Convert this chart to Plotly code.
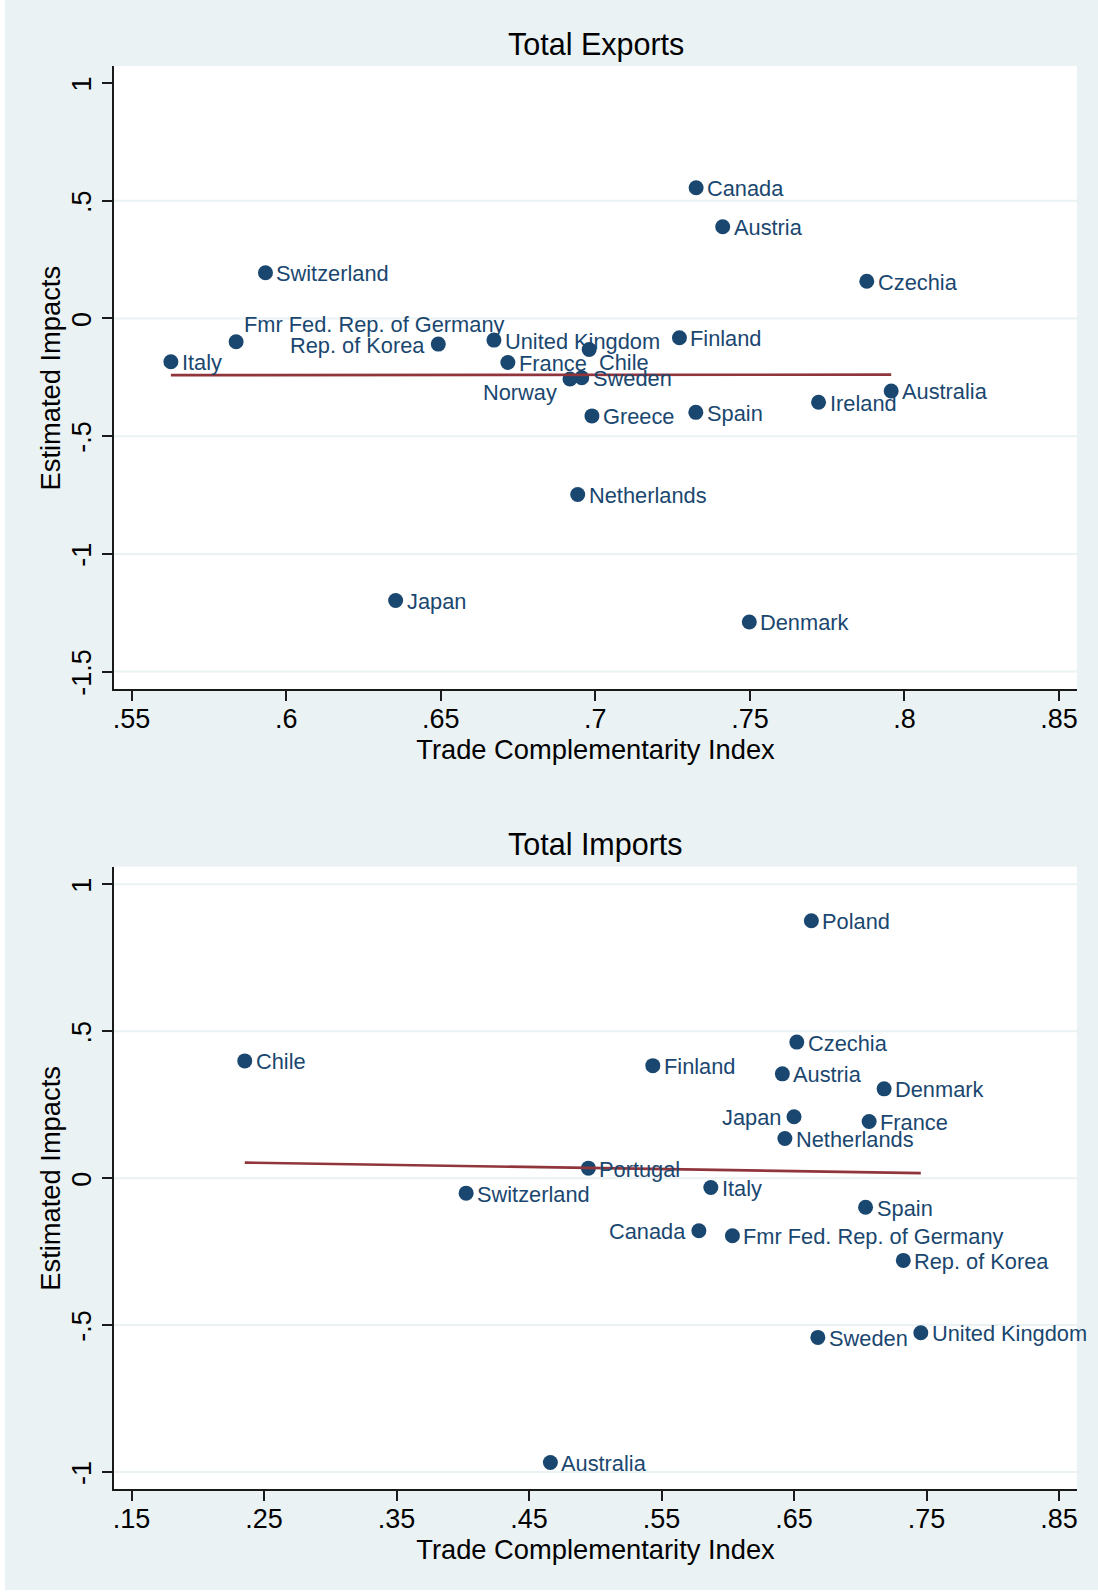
import plotly.graph_objects as go

BG = "#EAF2F3"
NAVY = "#1A476F"
MAROON = "#90353B"
FONT = "Liberation Sans, Arial, Helvetica, sans-serif"

# ---------------- Total Exports ----------------
exp_countries = ["Canada", "Austria", "Czechia", "Switzerland", "Fmr Fed. Rep. of Germany",
                 "Rep. of Korea", "United Kingdom", "Chile", "Italy", "France", "Norway",
                 "Sweden", "Greece", "Spain", "Finland", "Ireland", "Australia",
                 "Netherlands", "Japan", "Denmark"]
exp_tci = [0.7326, 0.7412, 0.7878, 0.5933, 0.5838,
           0.6492, 0.6672, 0.6980, 0.5627, 0.6717, 0.6918,
           0.6956, 0.6989, 0.7325, 0.7272, 0.7722, 0.7957,
           0.6943, 0.6354, 0.7498]
exp_impact = [0.555, 0.389, 0.158, 0.194, -0.099,
              -0.109, -0.092, -0.132, -0.184, -0.187, -0.257,
              -0.252, -0.414, -0.399, -0.082, -0.356, -0.308,
              -0.748, -1.198, -1.289]
exp_fit_x = [0.5627, 0.7957]
exp_fit_y = [-0.241, -0.239]
exp_xticks = [0.55, 0.60, 0.65, 0.70, 0.75, 0.80, 0.85]
exp_xticktext = [".55", ".6", ".65", ".7", ".75", ".8", ".85"]
exp_yticks = [-1.5, -1.0, -0.5, 0.0, 0.5, 1.0]
exp_yticktext = ["-1.5", "-1", "-.5", "0", ".5", "1"]
exp_grid = [-1.5, -1.0, -0.5, 0.0, 0.5]

# ---------------- Total Imports ----------------
imp_countries = ["Poland", "Czechia", "Chile", "Finland", "Austria", "Denmark", "Japan",
                 "France", "Netherlands", "Portugal", "Italy", "Switzerland", "Spain",
                 "Canada", "Fmr Fed. Rep. of Germany", "Rep. of Korea", "Sweden",
                 "United Kingdom", "Australia"]
imp_tci = [0.6631, 0.6521, 0.2354, 0.5434, 0.6412, 0.7180, 0.6500,
           0.7067, 0.6431, 0.4948, 0.5872, 0.4025, 0.7040,
           0.5782, 0.6035, 0.7325, 0.6680,
           0.7457, 0.4661]
imp_impact = [0.876, 0.463, 0.399, 0.383, 0.355, 0.304, 0.209,
              0.193, 0.135, 0.034, -0.032, -0.051, -0.099,
              -0.179, -0.196, -0.280, -0.542,
              -0.526, -0.968]
imp_fit_x = [0.2354, 0.7457]
imp_fit_y = [0.053, 0.017]
imp_xticks = [0.15, 0.25, 0.35, 0.45, 0.55, 0.65, 0.75, 0.85]
imp_xticktext = [".15", ".25", ".35", ".45", ".55", ".65", ".75", ".85"]
imp_yticks = [-1.0, -0.5, 0.0, 0.5, 1.0]
imp_yticktext = ["-1", "-.5", "0", ".5", "1"]
imp_grid = [-1.0, -0.5, 0.0, 0.5, 1.0]

# label placement (like Stata's mlabvposition); default is to the right (3 o'clock)
exp_label_pos = {"Fmr Fed. Rep. of Germany": "tr", "Rep. of Korea": "l",
                 "Chile": "br", "Norway": "bl"}
imp_label_pos = {"Japan": "l", "Canada": "l"}
POS_STYLE = {  # xanchor, xshift, yshift
    "r": ("left", 9, -1),
    "l": ("right", -11, -1),
    "tr": ("left", 6, 17),
    "br": ("left", 8, -13),
    "bl": ("right", -11, -14),
}

fig = go.Figure()
annotations = []


def add_panel(xs, ys, names, posmap, fx, fy, xa, ya):
    fig.add_trace(go.Scatter(
        x=xs, y=ys, mode="markers",
        marker=dict(size=15, color=NAVY, line=dict(width=0)),
        cliponaxis=False, xaxis=xa, yaxis=ya, hoverinfo="skip"))
    for xv, yv, n in zip(xs, ys, names):
        xan, xs_, ys_ = POS_STYLE[posmap.get(n, "r")]
        annotations.append(dict(
            x=xv, y=yv, xref=xa, yref=ya, text=n, showarrow=False,
            xanchor=xan, yanchor="middle", xshift=xs_, yshift=ys_,
            font=dict(family=FONT, size=21.8, color=NAVY)))
    fig.add_trace(go.Scatter(
        x=fx, y=fy, mode="lines", line=dict(color=MAROON, width=2.7),
        xaxis=xa, yaxis=ya, hoverinfo="skip"))


add_panel(exp_tci, exp_impact, exp_countries, exp_label_pos, exp_fit_x, exp_fit_y, "x", "y")
add_panel(imp_tci, imp_impact, imp_countries, imp_label_pos, imp_fit_x, imp_fit_y, "x2", "y2")

shapes = []
for g in exp_grid:
    shapes.append(dict(type="line", xref="x domain", yref="y", x0=0, x1=1, y0=g, y1=g,
                       line=dict(color=BG, width=2), layer="below"))
for g in imp_grid:
    shapes.append(dict(type="line", xref="x2 domain", yref="y2", x0=0, x1=1, y0=g, y1=g,
                       line=dict(color=BG, width=2), layer="below"))
# thin white border strips of the original image
shapes.append(dict(type="rect", xref="paper", yref="paper", x0=-114 / 963, x1=-109 / 963,
                   y0=-104 / 1423, y1=1489 / 1423, fillcolor="white", line=dict(width=0)))
shapes.append(dict(type="rect", xref="paper", yref="paper", x0=-114 / 963, x1=984 / 963,
                   y0=-104 / 1423, y1=-101 / 1423, fillcolor="white", line=dict(width=0)))

axis_common = dict(showline=True, linecolor="#1a1a1a", linewidth=1.5, ticks="outside",
                   ticklen=10, tickwidth=1.5, tickcolor="#1a1a1a", showgrid=False,
                   zeroline=False, tickfont=dict(family=FONT, size=27, color="black"))
xtitle_font = dict(family=FONT, size=27.3, color="black")

# axis titles / panel titles
for txt, yv in [("Estimated Impacts", (0.5620 + 1.0) / 2), ("Estimated Impacts", 0.4373 / 2)]:
    annotations.append(dict(text=txt, xref="paper", yref="paper", x=(50.8 - 114) / 963, y=yv,
                            xanchor="center", yanchor="middle", textangle=-90, showarrow=False,
                            font=xtitle_font))
annotations.append(dict(text="Total Exports", xref="paper", yref="paper", x=0.5,
                        y=(1489 - 44) / 1423, xanchor="center", yanchor="middle",
                        showarrow=False, font=dict(family=FONT, size=30.5, color="black")))
annotations.append(dict(text="Total Imports", xref="paper", yref="paper", x=0.5,
                        y=(1489 - 844) / 1423, xanchor="center", yanchor="middle",
                        showarrow=False, font=dict(family=FONT, size=30.5, color="black")))

fig.update_layout(
    width=1098, height=1593, paper_bgcolor=BG, plot_bgcolor="white",
    margin=dict(l=114, r=21, t=66, b=104), showlegend=False,
    font=dict(family=FONT),
    xaxis=dict(domain=[0, 1], anchor="y", range=[0.5443, 0.8558], tickmode="array",
               tickvals=exp_xticks, ticktext=exp_xticktext, ticklabelstandoff=-5,
               title=dict(text="Trade Complementarity Index", standoff=1, font=xtitle_font),
               **axis_common),
    yaxis=dict(domain=[0.5620, 1.0], anchor="x", range=[-1.575, 1.072], tickmode="array",
               tickvals=exp_yticks, ticktext=exp_yticktext, tickangle=-90,
               ticklabelshift=5, **axis_common),
    xaxis2=dict(domain=[0, 1], anchor="y2", range=[0.1367, 0.8636], tickmode="array",
                tickvals=imp_xticks, ticktext=imp_xticktext, ticklabelstandoff=-5,
                title=dict(text="Trade Complementarity Index", standoff=1, font=xtitle_font),
                **axis_common),
    yaxis2=dict(domain=[0, 0.4373], anchor="x2", range=[-1.058, 1.06], tickmode="array",
                tickvals=imp_yticks, ticktext=imp_yticktext, tickangle=-90,
                ticklabelshift=5, **axis_common),
    shapes=shapes,
    annotations=annotations,
)

fig.write_html("out.html", config={"displayModeBar": False},
               post_script="document.body.style.margin='0';")
